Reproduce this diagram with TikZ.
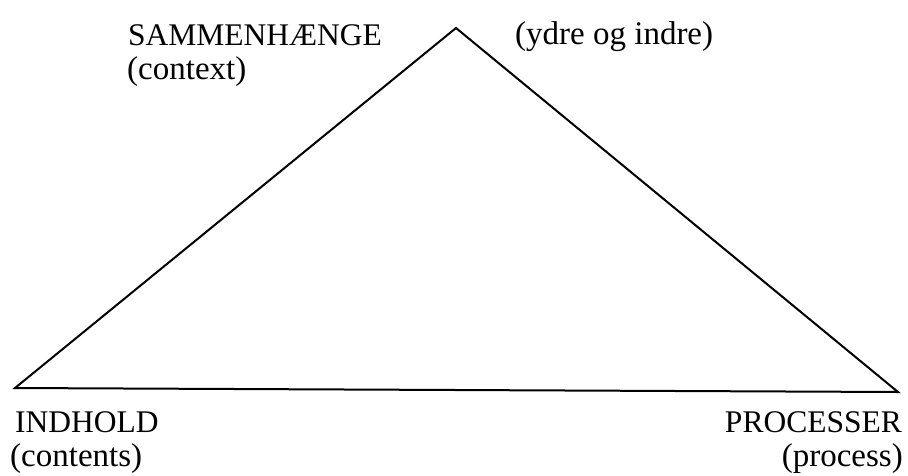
\documentclass[tikz,border=0pt]{standalone}
\usepackage{fontspec}
\setmainfont{Liberation Serif}
\usetikzlibrary{positioning}
\tikzset{
  lbl/.style={inner sep=0pt,font=\fontsize{31.5}{37}\selectfont},
  sublbl/.style={inner sep=0pt,font=\fontsize{33}{39}\selectfont},
  side/.style={line width=2pt,line join=miter}
}
\begin{document}
\begin{tikzpicture}[x=1pt,y=-1pt]
  \useasboundingbox (0,0) rectangle (908,475);
  % corners of the triangle
  \coordinate (top) at (456,28);
  \coordinate (left) at (15,388);
  \coordinate (right) at (898,392);
  \draw[side] (left) -- (top) -- (right) -- cycle;
  % labels
  \node[lbl,anchor=base west] (ctx) at (128,45) {SAMMENHÆNGE};
  \node[sublbl,anchor=base west] (ctxen) at (127,79) {(context)};
  \node[sublbl,anchor=base west] (yi) at (515,44) {(ydre og indre)};
  \node[lbl,anchor=base west] (ind) at (15,432) {INDHOLD};
  \node[sublbl,anchor=base west] (inden) at (10,466) {(contents)};
  \node[lbl,anchor=base east] (proc) at (902,432) {PROCESSER};
  \node[sublbl,anchor=base east] (procen) at (903,466) {(process)};
\end{tikzpicture}
\end{document}
